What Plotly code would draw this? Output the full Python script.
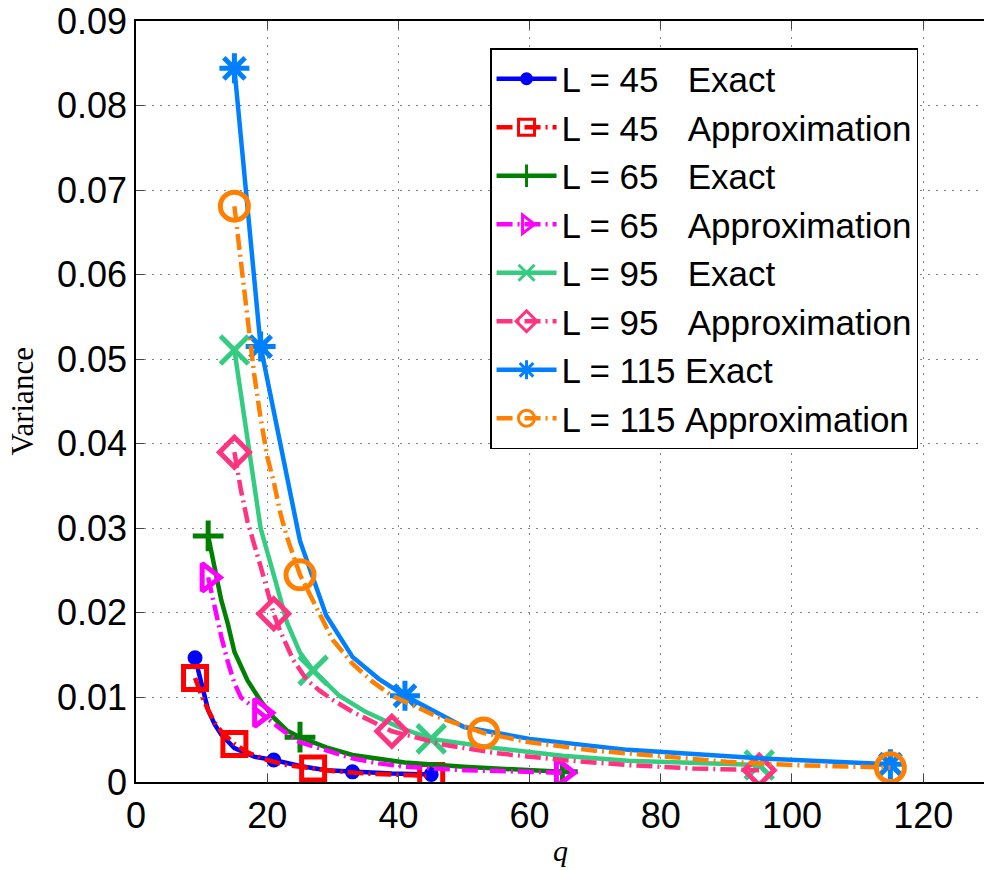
import plotly.graph_objects as go

# ---------------- data ----------------
q45_exact = [9, 10, 11, 12, 13, 15, 18, 21, 25, 29, 33, 39, 45]
v45_exact = [0.0147, 0.0118, 0.0085, 0.0068, 0.0056, 0.0040, 0.0030, 0.0026, 0.0019, 0.0014, 0.0012, 0.0010, 0.0009]
m45_exact = [9, 21, 33, 45]

q45_approx = [9, 10, 11, 12, 13, 15, 17, 20, 23, 27, 30, 35, 40, 45]
v45_approx = [0.0123, 0.0102, 0.0085, 0.0070, 0.0060, 0.0045, 0.0035, 0.0026, 0.0020, 0.0016, 0.0013, 0.0010, 0.0008, 0.0007]
m45_approx = [9, 15, 27, 45]

q65_exact = [11, 12, 13, 14, 15, 17, 19, 21, 23, 25, 29, 33, 37, 41, 50, 60, 65]
v65_exact = [0.0291, 0.0252, 0.0215, 0.0187, 0.0154, 0.0120, 0.0096, 0.0076, 0.0061, 0.0053, 0.0041, 0.0032, 0.0027, 0.0023, 0.0018, 0.0014, 0.0012]
m65_exact = [11, 25, 65]

q65_approx = [11, 12, 13, 14, 15, 16, 19, 22, 25, 29, 33, 37, 41, 50, 60, 65]
v65_approx = [0.0242, 0.0205, 0.0172, 0.0142, 0.0117, 0.0100, 0.0082, 0.0063, 0.0047, 0.0037, 0.0028, 0.0022, 0.0018, 0.0014, 0.0012, 0.0011]
m65_approx = [11, 19, 65]

q95_exact = [15, 17, 19, 21, 23, 25, 27, 31, 35, 40, 45, 55, 65, 75, 85, 95]
v95_exact = [0.0511, 0.0405, 0.0300, 0.0245, 0.0189, 0.0153, 0.0132, 0.0102, 0.0083, 0.0065, 0.0051, 0.0040, 0.0031, 0.0025, 0.0022, 0.0020]
m95_exact = [15, 27, 45, 95]

q95_approx = [15, 16, 17, 18, 19, 21, 22, 24, 26, 28, 30, 33, 36, 39, 47, 55, 65, 75, 85, 95]
v95_approx = [0.0390, 0.0345, 0.0308, 0.0282, 0.0255, 0.0199, 0.0178, 0.0144, 0.0121, 0.0108, 0.0097, 0.0083, 0.0071, 0.0060, 0.0044, 0.0034, 0.0026, 0.0020, 0.0016, 0.0014]
m95_approx = [15, 21, 39, 95]

q115_exact = [15, 19, 25, 29, 33, 37, 41, 50, 60, 75, 95, 115]
v115_exact = [0.0844, 0.0515, 0.0285, 0.0197, 0.0148, 0.0122, 0.0102, 0.0065, 0.0051, 0.0038, 0.0028, 0.0021]
m115_exact = [15, 19, 41, 115]

q115_approx = [15, 16, 17, 18, 19, 20, 21, 22, 23, 25, 30, 33, 36, 39, 43, 46, 53, 60, 70, 80, 90, 100, 115]
v115_approx = [0.0681, 0.0615, 0.0545, 0.0483, 0.0430, 0.0385, 0.0355, 0.0318, 0.0290, 0.0245, 0.0168, 0.0140, 0.0119, 0.0102, 0.0088, 0.0077, 0.0058, 0.0047, 0.0037, 0.0030, 0.0024, 0.0020, 0.0017]
m115_approx = [15, 25, 53, 115]

series_names = [
    "L = 45\u00a0\u00a0\u00a0Exact",
    "L = 45\u00a0\u00a0\u00a0Approximation",
    "L = 65\u00a0\u00a0\u00a0Exact",
    "L = 65\u00a0\u00a0\u00a0Approximation",
    "L = 95\u00a0\u00a0\u00a0Exact",
    "L = 95\u00a0\u00a0\u00a0Approximation",
    "L = 115\u00a0Exact",
    "L = 115\u00a0Approximation",
]

x_ticks = [0, 20, 40, 60, 80, 100, 120]
y_ticks = [0, 0.01, 0.02, 0.03, 0.04, 0.05, 0.06, 0.07, 0.08, 0.09]
y_ticktext = ["0", "0.01", "0.02", "0.03", "0.04", "0.05", "0.06", "0.07", "0.08", "0.09"]

# ---------------- styles ----------------
DASHDOT = "16px,5px,2px,5px"
styles = [
    dict(color="#0000FF", symbol="circle", size=10, dash="solid"),
    dict(color="#FF0000", symbol="square-open", size=23, dash=DASHDOT),
    dict(color="#008000", symbol="cross-thin-open", size=22, dash="solid"),
    dict(color="#FF00FF", symbol="triangle-right-open", size=24, dash=DASHDOT),
    dict(color="#33CC80", symbol="x-thin-open", size=28, dash="solid"),
    dict(color="#FF3380", symbol="diamond-open", size=23, dash=DASHDOT),
    dict(color="#0080FF", symbol="asterisk-open", size=25, dash="solid"),
    dict(color="#FF8000", symbol="circle-open", size=28, dash=DASHDOT),
]

data = [
    (q45_exact, v45_exact, m45_exact),
    (q45_approx, v45_approx, m45_approx),
    (q65_exact, v65_exact, m65_exact),
    (q65_approx, v65_approx, m65_approx),
    (q95_exact, v95_exact, m95_exact),
    (q95_approx, v95_approx, m95_approx),
    (q115_exact, v115_exact, m115_exact),
    (q115_approx, v115_approx, m115_approx),
]

fig = go.Figure()
LW = 4.5
MLW = 5
for name, st, (qs, vs, ms) in zip(series_names, styles, data):
    mq = [q for q in qs if q in ms]
    mv = [v for q, v in zip(qs, vs) if q in ms]
    fig.add_trace(go.Scatter(
        x=qs, y=vs, mode="lines", showlegend=False, hoverinfo="skip",
        line=dict(color=st["color"], width=LW, dash=st["dash"]),
    ))
    fig.add_trace(go.Scatter(
        x=mq, y=mv, mode="markers", showlegend=False, name=name,
        marker=dict(color=st["color"], symbol=st["symbol"], size=st["size"],
                    line=dict(color=st["color"], width=MLW)),
    ))
    fig.add_trace(go.Scatter(
        x=[None], y=[None], mode="lines+markers", name=name, showlegend=True,
        line=dict(color=st["color"], width=LW, dash=st["dash"]),
        marker=dict(color=st["color"], symbol=st["symbol"], size=st["size"],
                    line=dict(color=st["color"], width=3)),
    ))

FONT = "Liberation Sans, Arial, sans-serif"
SERIF = "Liberation Serif, Times New Roman, serif"

fig.update_layout(
    width=984, height=870,
    margin=dict(l=136, r=0, t=21, b=88),
    paper_bgcolor="white", plot_bgcolor="white",
    font=dict(family=FONT, size=36, color="black"),
    xaxis=dict(
        range=[0, 129.27], tickvals=x_ticks, ticks="inside", ticklen=8,
        tickcolor="#444", tickwidth=1, showline=True, linecolor="black",
        linewidth=1.5, mirror="ticks", showgrid=True, gridcolor="#888",
        griddash="2px,6px", gridwidth=1, zeroline=False,
        tickfont=dict(family=FONT, size=36, color="black"),
        ticklabelstandoff=1,
    ),
    yaxis=dict(
        range=[0, 0.09], tickvals=y_ticks, ticktext=y_ticktext, ticks="inside",
        ticklen=8, tickcolor="#444", tickwidth=1, showline=True,
        linecolor="black", linewidth=1.5, mirror=False, showgrid=True,
        gridcolor="#888", griddash="2px,6px", gridwidth=1, zeroline=False,
        tickfont=dict(family=FONT, size=36, color="black"),
        ticklabelstandoff=0,
    ),
    legend=dict(
        x=0.4175, y=0.9645, xanchor="left", yanchor="top",
        bordercolor="black", borderwidth=1.5, bgcolor="white",
        font=dict(family=FONT, size=35, color="black"),
        tracegroupgap=0, itemwidth=60,
    ),
    annotations=[
        dict(text="Variance", x=-0.1344, y=0.5, xref="paper", yref="paper",
             textangle=-90, showarrow=False, xanchor="center", yanchor="middle",
             font=dict(family=SERIF, size=31, color="black")),
        dict(text="<i>q</i>", x=0.5, y=-0.09, xref="paper", yref="paper",
             showarrow=False, xanchor="center", yanchor="middle",
             font=dict(family=SERIF, size=30, color="black")),
    ],
    showlegend=True,
)

fig.write_html("out.html")
